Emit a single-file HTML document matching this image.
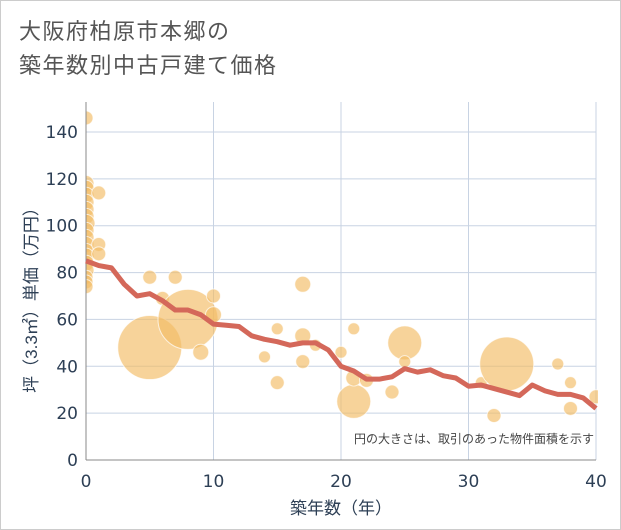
<!DOCTYPE html>
<html><head><meta charset="utf-8"><style>
body{margin:0;background:#fff;font-family:"Liberation Sans","Noto Sans CJK JP",sans-serif;}
#wrap{position:relative;width:619px;height:528px;border:1px solid #ccc;background:#fff;}
.title{position:absolute;left:18px;top:14px;font-size:22px;line-height:34px;color:#555;letter-spacing:1.5px;}
</style></head><body>
<div id="wrap">
<div class="title">大阪府柏原市本郷の<br>築年数別中古戸建て価格</div>
<svg id="chart" width="621" height="530" style="position:absolute;left:-1px;top:-1px">
<defs><clipPath id="plotclip"><rect x="86" y="100" width="512" height="361"/></clipPath></defs>
<g id="bubbles" clip-path="url(#plotclip)"></g>
</svg>
</div>
<script>
const xTicks=[0,10,20,30,40];
const yTicks=[0,20,40,60,80,100,120,140];
const lineYears=[0,1,2,3,4,5,6,7,8,9,10,11,12,13,14,15,16,17,18,19,20,21,22,23,24,25,26,27,28,29,30,31,32,33,34,35,36,37,38,39,40];
const lineValues=[85,83,82,75,70,71,68,64,64,62,58,57.5,57,53,51.5,50.5,49,50,50,47,40,38,34.5,34.5,35.5,39,37.5,38.5,36,35,31.5,32,30.5,29,27.5,32,29.5,28,28,26.5,22];
const bubX=[0,0,0,0,0,0,0,0,0,0,0,0,0,0,0,0,0,0,1,1,1,5,5,7,6,8,10,10,9,14,15,15,17,17,17,18,20,21,21,21,22,24,25,25,31,32,33,37,38,38,40];
const bubY=[146,118,116,113,110,107,104,101,98,95,92,89,87,84,81,78,76,74,114,92,88,48,78,78,69,60,70,62,46,44,56,33,75,53,42,49,46,56,25,35,34,29,50,42,33,19,41,41,33,22,27];
const bubR=[7,8,8,8,8,8,8,9,8,8,8,8,8,8,8,7,7,7,7,7,7,32,7,7,7,30,7,8,8,6,6,7,8,8,7,6,6,6,17,8,7,7,17,6,6,7,27,6,6,7,7];
const NS="http://www.w3.org/2000/svg";
const svg=document.getElementById('chart');
const bg=document.getElementById('bubbles');
const X0=86,X1=596,Y0=460,Y1=132;
const FN='"DejaVu Sans","Liberation Sans",sans-serif';
const xs=v=>X0+(v-0)/40*(X1-X0);
const ys=v=>Y0-v/140*(Y0-Y1);
function el(t,a,par){const e=document.createElementNS(NS,t);for(const k in a)e.setAttribute(k,a[k]);(par||svg).appendChild(e);return e;}
yTicks.forEach(v=>{
 const l=el('line',{x1:X0,x2:X1,y1:ys(v),y2:ys(v),stroke:'#c8d3e3','stroke-width':1});
 
 
 const t=el('text',{x:X0-8,y:ys(v)+6,'text-anchor':'end','font-size':17,fill:'#2d3f55','font-family':FN});
 t.textContent=v;
 
 
});
xTicks.forEach(v=>{
 const l=el('line',{x1:xs(v),x2:xs(v),y1:Y1-30,y2:Y0,stroke:'#c8d3e3','stroke-width':1});
 
 
 const t=el('text',{x:xs(v),y:Y0+27,'text-anchor':'middle','font-size':17,fill:'#2d3f55','font-family':FN});
 t.textContent=v;
 
 
});
svg.appendChild(bg);
bubX.forEach((x,i)=>{
 const c=el('circle',{cx:xs(x),cy:ys(bubY[i]),r:bubR[i],fill:'rgba(243,188,100,0.65)',stroke:'rgba(255,255,255,0.7)','stroke-width':1},bg);
 
 
});
const ax=el('line',{x1:X0,x2:X0,y1:Y1-30,y2:Y0,stroke:'#888','stroke-width':1});


const ax2=el('line',{x1:X0,x2:X1,y1:Y0,y2:Y0,stroke:'#888','stroke-width':1});


const p=el('polyline',{points:lineYears.map((y,i)=>xs(y)+','+ys(lineValues[i])).join(' '),fill:'none',stroke:'#d4685a','stroke-width':5,'stroke-linejoin':'round'});


const n=el('text',{x:594,y:443,'text-anchor':'end','font-size':12,fill:'#444'});
n.textContent='円の大きさは、取引のあった物件面積を示す';


const xt=el('text',{x:341,y:514,'text-anchor':'middle','font-size':17,fill:'#2d3f55'});
xt.textContent='築年数（年）';


const yt=el('text',{x:0,y:0,'text-anchor':'middle','font-size':17,fill:'#2d3f55',transform:'translate(37,296) rotate(-90)'});
yt.textContent='坪（3.3㎡）単価（万円）';


</script>
</body></html>
